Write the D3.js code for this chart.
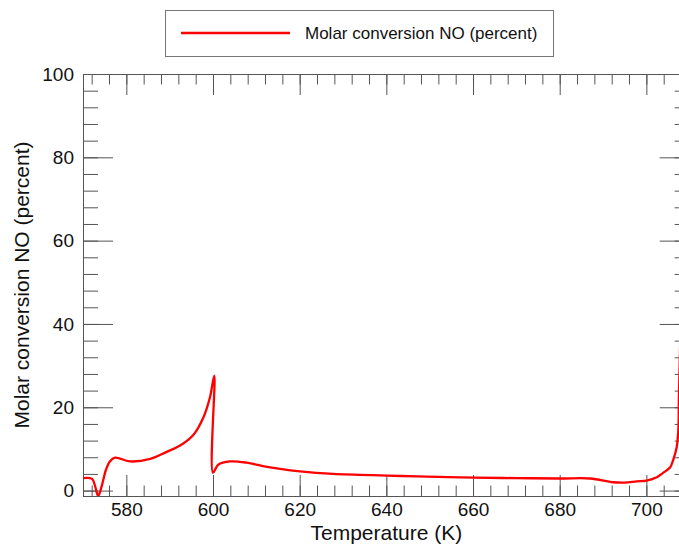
<!DOCTYPE html>
<html>
<head>
<meta charset="utf-8">
<script src="https://cdn.jsdelivr.net/npm/d3@7"></script>
<style>
  body { margin: 0; background: #fff; }
  svg { display: block; font-family: "Liberation Sans", Arial, sans-serif; }
</style>
</head>
<body>
<script>
// temperature (K) and NO conversion (percent)
var temperature = [570, 572.1, 572.8, 573.5, 574.3, 575.3, 576.2, 577.4, 580.8, 585.5,
  589.3, 592.4, 595.5, 597.8, 599.3, 600.3, 600.0, 601.2, 603.9, 607.8,
  611.5, 615.5, 620.1, 627.7, 640.1, 647, 660.1, 670.1, 680, 687,
  692.3, 695, 697.8, 700.1, 702.4, 703.8, 705.5, 706.2, 707, 707.4,
  707.5, 707.8];
var conversion = [3.0, 2.8, 1.0, -1.3, 1.0, 5.0, 7.0, 7.9, 7.0, 7.6,
  9.3, 10.8, 13.4, 17.6, 22.4, 27.6, 4.3, 6.2, 7.0, 6.7,
  5.9, 5.2, 4.6, 4.0, 3.6, 3.4, 3.1, 3.0, 2.9, 2.9,
  2.0, 1.9, 2.2, 2.4, 3.2, 4.2, 5.6, 7.4, 10.4, 15,
  22, 35];
var xTicks = [580, 600, 620, 640, 660, 680, 700];
var yTicks = [0, 20, 40, 60, 80, 100];
var seriesName = "Molar conversion NO (percent)";

var W = 679, H = 545;
var plotLeft = 83, plotRight = 689.7, plotTop = 74, plotBottom = 496;

var svg = d3.select(document.body).append("svg")
  .attr("width", W).attr("height", H);

var x = d3.scaleLinear().domain([570, 710]).range([plotLeft, plotRight]);
var y = d3.scaleLinear().domain([-1.3, 100]).range([plotBottom, plotTop]);

var xMinor = d3.range(572, 710, 4);
var yMinor = d3.range(0, 101, 4);

function styleAxis(g) {
  g.select(".domain").attr("stroke", "#555");
  g.selectAll(".tick line").attr("stroke", "#555");
  g.selectAll("text").attr("fill", "#111").attr("font-size", 19)
    .attr("font-family", "Liberation Sans, Arial, sans-serif");
}

// clip the curve to the plot box
svg.append("clipPath").attr("id", "clip")
  .append("rect").attr("x", plotLeft).attr("y", plotTop)
  .attr("width", plotRight - plotLeft).attr("height", plotBottom - plotTop);

// minor ticks, all four sides
svg.append("g").attr("transform", "translate(0," + plotBottom + ")")
  .call(d3.axisBottom(x).tickValues(xMinor).tickSize(-10.5).tickFormat(""))
  .call(styleAxis);
svg.append("g").attr("transform", "translate(0," + plotTop + ")")
  .call(d3.axisTop(x).tickValues(xMinor).tickSize(-10.5).tickFormat(""))
  .call(styleAxis);
svg.append("g").attr("transform", "translate(" + plotLeft + ",0)")
  .call(d3.axisLeft(y).tickValues(yMinor).tickSize(-15).tickFormat(""))
  .call(styleAxis);
svg.append("g").attr("transform", "translate(" + plotRight + ",0)")
  .call(d3.axisRight(y).tickValues(yMinor).tickSize(-15).tickFormat(""))
  .call(styleAxis);

// major ticks with labels
svg.append("g").attr("transform", "translate(0," + plotBottom + ")")
  .call(d3.axisBottom(x).tickValues(xTicks).tickSize(-21).tickPadding(7).tickFormat(d3.format("d")))
  .call(styleAxis);
svg.append("g").attr("transform", "translate(0," + plotTop + ")")
  .call(d3.axisTop(x).tickValues(xTicks).tickSize(-21).tickFormat(""))
  .call(styleAxis);
svg.append("g").attr("transform", "translate(" + plotLeft + ",0)")
  .call(d3.axisLeft(y).tickValues(yTicks).tickSize(-30).tickPadding(9).tickFormat(d3.format("d")))
  .call(styleAxis);
svg.append("g").attr("transform", "translate(" + plotRight + ",0)")
  .call(d3.axisRight(y).tickValues(yTicks).tickSize(-30).tickFormat(""))
  .call(styleAxis);

// the curve
var line = d3.line()
  .x(function(d, i) { return x(temperature[i]); })
  .y(function(d) { return y(d); })
  .curve(d3.curveCatmullRom.alpha(0.5));
svg.append("path")
  .datum(conversion)
  .attr("clip-path", "url(#clip)")
  .attr("fill", "none")
  .attr("stroke", "#ff0000")
  .attr("stroke-width", 2.3)
  .attr("stroke-linejoin", "round")
  .attr("d", line);

// axis titles
svg.append("text")
  .attr("x", (plotLeft + plotRight) / 2).attr("y", 540)
  .attr("text-anchor", "middle").attr("font-size", 21).attr("fill", "#111")
  .text("Temperature (K)");
svg.append("text")
  .attr("transform", "translate(29," + (plotTop + plotBottom) / 2 + ") rotate(-90)")
  .attr("text-anchor", "middle").attr("font-size", 21).attr("fill", "#111")
  .text(seriesName);

// legend
var legend = svg.append("g");
legend.append("rect")
  .attr("x", 165.5).attr("y", 10.5).attr("width", 388).attr("height", 46)
  .attr("fill", "#fff").attr("stroke", "#777");
legend.append("line")
  .attr("x1", 181).attr("x2", 290).attr("y1", 33).attr("y2", 33)
  .attr("stroke", "#ff0000").attr("stroke-width", 2.3);
legend.append("text")
  .attr("x", 305).attr("y", 39)
  .attr("font-size", 17).attr("fill", "#111")
  .text(seriesName);
</script>
</body>
</html>
